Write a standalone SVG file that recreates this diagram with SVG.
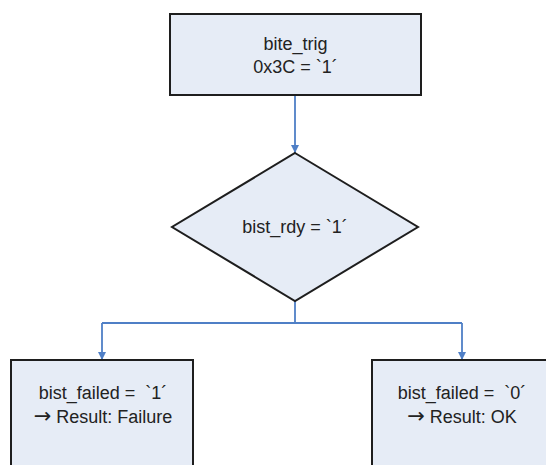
<svg xmlns="http://www.w3.org/2000/svg" width="546" height="465" viewBox="0 0 546 465">
  <style>
    .shape { fill: #e6ecf6; stroke: #1e1e1e; stroke-width: 2; }
    .label { font-family: "Liberation Sans", Arial, sans-serif; font-size: 18px; fill: #222222; text-anchor: middle; }
    .sym { font-family: "DejaVu Sans", sans-serif; font-size: 21px; }
    .wire { fill: none; stroke: #4f7fc6; stroke-width: 1.8; }
  </style>
  <defs>
    <marker id="arrow" viewBox="0 0 10 10" refX="10" refY="5" markerWidth="8" markerHeight="8" orient="auto" markerUnits="userSpaceOnUse">
      <path d="M0,0 L10,5 L0,10 Z" fill="#4f7fc6"/>
    </marker>
  </defs>
  <rect width="546" height="465" fill="#ffffff"/>

  <!-- flow lines: trigger to check, check splits to both results -->
  <g id="connectors">
    <path class="wire" d="M295,95 L295,153" marker-end="url(#arrow)"/>
    <path class="wire" d="M295,301 L295,323"/>
    <path class="wire" d="M102,323 L462,323"/>
    <path class="wire" d="M102,323 L102,360" marker-end="url(#arrow)"/>
    <path class="wire" d="M462,323 L462,360" marker-end="url(#arrow)"/>
  </g>

  <g id="bite_trig">
    <rect class="shape" x="170" y="14" width="251" height="81"/>
    <text class="label" x="295.5" y="50">bite_trig</text>
    <text class="label" x="295.5" y="73">0x3C = `1´</text>
  </g>

  <g id="bist_rdy">
    <polygon class="shape" points="295,153 418,227 295,301 172,227"/>
    <text class="label" x="295" y="233">bist_rdy = `1´</text>
  </g>

  <g id="result_failure">
    <rect class="shape" x="11" y="360" width="182" height="120"/>
    <text class="label" x="103" y="399" xml:space="preserve">bist_failed =  `1´</text>
    <text class="label" x="103" y="423"><tspan class="sym">→</tspan> Result: Failure</text>
  </g>

  <g id="result_ok">
    <rect class="shape" x="372" y="360" width="182" height="120"/>
    <text class="label" x="462" y="399" xml:space="preserve">bist_failed =  `0´</text>
    <text class="label" x="462" y="423"><tspan class="sym">→</tspan> Result: OK</text>
  </g>
</svg>
